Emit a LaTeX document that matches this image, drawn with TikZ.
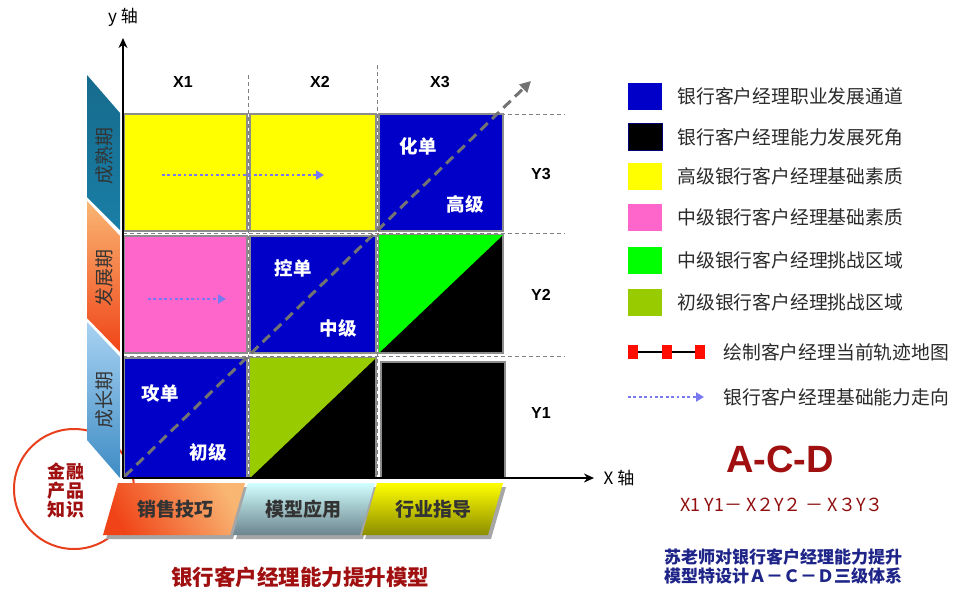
\documentclass[tikz,border=0pt]{standalone}
\usepackage{fontspec}
\setmainfont{Liberation Sans}
\newfontfamily\cjk{Noto Sans CJK SC}
\usetikzlibrary{arrows.meta}
\definecolor{cblue}{HTML}{0000C8}
\definecolor{cyel}{HTML}{FFFF00}
\definecolor{cpink}{HTML}{FF66CC}
\definecolor{cgreen}{HTML}{00FF00}
\definecolor{colive}{HTML}{99CC00}
\definecolor{dred}{HTML}{A01010}
\definecolor{dblue}{HTML}{1E2488}
\definecolor{dots}{HTML}{7878F0}
\definecolor{teal}{HTML}{1A7EA6}
\definecolor{circ}{HTML}{E8401C}
\definecolor{legtxt}{HTML}{2A2A2A}
\definecolor{skytop}{HTML}{A8D2F2}
\definecolor{skybot}{HTML}{3E8CC4}
\definecolor{orgtop}{HTML}{F9B673}
\definecolor{orgbot}{HTML}{F04418}
\tikzset{
  cellbox/.style={draw=black!45, line width=1.5pt},
  gridline/.style={draw=black!50, line width=1pt, dash pattern=on 4pt off 3pt},
  axisline/.style={draw=black, line width=2.6pt, -{Stealth[length=10pt,width=9pt]}},
  diagline/.style={draw=black!55, line width=3pt, dash pattern=on 10pt off 6pt, -{Triangle[length=11pt,width=11pt]}},
  dotarrow/.style={draw=dots, line width=2.8pt, dash pattern=on 2.8pt off 2.6pt, -{Triangle[length=8pt,width=9pt]}},
  whitelbl/.style={text=white, font=\cjk\bfseries\fontsize{18.5}{18.5}\selectfont},
  xylbl/.style={font=\bfseries\fontsize{16}{16}\selectfont},
  legtext/.style={anchor=west, text=legtxt, font=\cjk\fontsize{18.8}{19}\selectfont},
  legbox/.style={minimum width=34pt, minimum height=27pt, inner sep=0pt, outer sep=0pt},
  stagetxt/.style={rotate=90, text=black!80, font=\cjk\fontsize{19}{19}\selectfont},
  skilltxt/.style={text=black!80, font=\cjk\bfseries\fontsize{19}{19}\selectfont},
  fintxt/.style={text=dred, font=\cjk\bfseries\fontsize{18}{18}\selectfont},
  redmark/.style={fill=red!90!orange, minimum width=10pt, minimum height=14pt, inner sep=0pt},
}
\begin{document}
\begin{tikzpicture}[x=1pt,y=-1pt]
\useasboundingbox (0,0) rectangle (956,590);
\fill[white] (0,0) rectangle (956,590);
% circle
\node[draw=circ, line width=2pt, circle, minimum size=120pt] (circ) at (74,489) {};
\node[fintxt] (fin1) at (66,472) {金\hspace{2pt}融};
\node[fintxt] (fin2) at (66,491) {产\hspace{2pt}品};
\node[fintxt] (fin3) at (66,510) {知\hspace{2pt}识};
% stage bands
\shade[top color=teal!85!black, bottom color=teal] (87,75) -- (120,113) -- (120,230) -- (87,197) -- cycle;
\shade[top color=orgtop, bottom color=orgbot] (87,201) -- (120,236) -- (120,352) -- (87,318) -- cycle;
\shade[top color=skytop, bottom color=skybot] (87,322) -- (120,357) -- (120,478) -- (87,440) -- cycle;
\node[stagetxt] (s3) at (104,156) {成熟期};
\node[stagetxt] (s2) at (104,278) {发展期};
\node[stagetxt] (s1) at (104,400) {成长期};
% bottom skill bands
\fill[black!35] (121,487) -- (248,487) -- (233,539) -- (106,539) -- cycle;
\shade[left color=orgbot, right color=orgtop, shading angle=120] (118,483) -- (245,483) -- (230,535) -- (103,535) -- cycle;
\fill[black!35] (251,487) -- (378,487) -- (363,539) -- (236,539) -- cycle;
\shade[top color=cyan!18, bottom color=teal!40!black!60] (248,483) -- (375,483) -- (360,535) -- (233,535) -- cycle;
\fill[black!35] (380,487) -- (506,487) -- (491,539) -- (365,539) -- cycle;
\shade[top color=yellow, bottom color=yellow!55!black] (377,483) -- (503,483) -- (488,535) -- (362,535) -- cycle;
\node[skilltxt] (k1) at (175,509) {销售技巧};
\node[skilltxt] (k2) at (303,509) {模型应用};
\node[skilltxt] (k3) at (433,509) {行业指导};
% grid dashed lines
\draw[gridline] (123,114) -- (565,114);
\draw[gridline] (123,233) -- (565,233);
\draw[gridline] (123,356) -- (565,356);
\draw[gridline] (248,75) -- (248,478);
\draw[gridline] (377,65) -- (377,478);
% cells
\filldraw[cellbox, fill=cyel] (124,114) rectangle (247,231);
\filldraw[cellbox, fill=cyel] (250,114) rectangle (376,231);
\filldraw[cellbox, fill=cblue] (379,114) rectangle (503,231);
\filldraw[cellbox, fill=cpink] (124,236) rectangle (247,353);
\filldraw[cellbox, fill=cblue] (250,236) rectangle (376,353);
\filldraw[cellbox, fill=black] (379,235) rectangle (503,353);
\fill[cgreen] (379,353) -- (379,235) -- (503,235) -- cycle;
\filldraw[cellbox, fill=cblue] (124,358) rectangle (247,478);
\filldraw[cellbox, fill=black] (250,358) rectangle (376,478);
\fill[colive] (250,478) -- (250,358) -- (376,358) -- cycle;
\filldraw[cellbox, fill=black] (381,362) rectangle (505,478);
% cell labels
\node[whitelbl] (t33a) at (418,146) {化单};
\node[whitelbl] (t33b) at (465,204) {高级};
\node[whitelbl] (t22a) at (293,268) {控单};
\node[whitelbl] (t22b) at (338,328) {中级};
\node[whitelbl] (t11a) at (160,393) {攻单};
\node[whitelbl] (t11b) at (208,452) {初级};
% axis labels
\node[xylbl] (x1) at (183,82) {X1};
\node[xylbl] (x2) at (320,82) {X2};
\node[xylbl] (x3) at (440,82) {X3};
\node[xylbl] (y3) at (541,174) {Y3};
\node[xylbl] (y2) at (541,295) {Y2};
\node[xylbl] (y1) at (541,413) {Y1};
% axes
\coordinate (O) at (123,478);
\coordinate (ytip) at (123,38);
\coordinate (xtip) at (594,478);
\coordinate (dtip) at (531,81);
\draw[axisline] (O) -- (ytip);
\draw[axisline] (O) -- (xtip);
\draw[diagline] ([shift={(2,-2)}]O) -- (dtip);
\node[font=\cjk\fontsize{17}{17}\selectfont] (ylab) at (123,17) {y 轴};
\node[font=\cjk\fontsize{17}{17}\selectfont] (xlab) at (619,478) {X 轴};
% dotted arrows in grid
\coordinate (a1s) at (162,175);
\coordinate (a1e) at (324,175);
\draw[dotarrow] (a1s) -- (a1e);
\coordinate (a2s) at (148,299);
\coordinate (a2e) at (226,299);
\draw[dotarrow] (a2s) -- (a2e);
% legend
\node[legbox, fill=cblue] (L1) at (645,96) {};
\node[legbox, fill=black, draw=cblue!60!black, line width=1pt] (L2) at (645,137) {};
\node[legbox, fill=cyel] (L3) at (645,176) {};
\node[legbox, fill=cpink] (L4) at (645,217) {};
\node[legbox, fill=cgreen] (L5) at (645,260) {};
\node[legbox, fill=colive] (L6) at (645,302) {};
\node[legtext] (T1) at (674,96) {银行客户经理职业发展通道};
\node[legtext] (T2) at (674,137) {银行客户经理能力发展死角};
\node[legtext] (T3) at (674,176) {高级银行客户经理基础素质};
\node[legtext] (T4) at (674,217) {中级银行客户经理基础素质};
\node[legtext] (T5) at (674,260) {中级银行客户经理挑战区域};
\node[legtext] (T6) at (674,302) {初级银行客户经理挑战区域};
\node[redmark] (m1) at (633,352) {};
\node[redmark] (m2) at (667,352) {};
\node[redmark] (m3) at (700,352) {};
\draw[black, line width=2.6pt] (m1) -- (m2);
\draw[black, line width=2.6pt] (m2) -- (m3);
\node[legtext] (T7) at (720,352) {绘制客户经理当前轨迹地图};
\coordinate (ls) at (628,397);
\coordinate (le) at (704,397);
\draw[dotarrow] (ls) -- (le);
\node[legtext] (T8) at (720,397) {银行客户经理基础能力走向};
% A-C-D
\node[text=dred, font=\bfseries\fontsize{38}{38}\selectfont] (acd) at (780,459) {A-C-D};
\node[text=dred!90!black, font=\cjk\fontsize{18}{18}\selectfont] (seq) at (782,505) {X1 Y1－ X２Y２ － X３Y３};
\node[text=dblue, font=\cjk\bfseries\fontsize{17}{19}\selectfont, align=center] (note) at (783,566) {苏老师对银行客户经理能力提升\\模型特设计Ａ－Ｃ－Ｄ三级体系};
% title
\node[text=dred, font=\cjk\bfseries\fontsize{21.5}{22}\selectfont] (title) at (300,577) {银行客户经理能力提升模型};
\end{tikzpicture}
\end{document}
